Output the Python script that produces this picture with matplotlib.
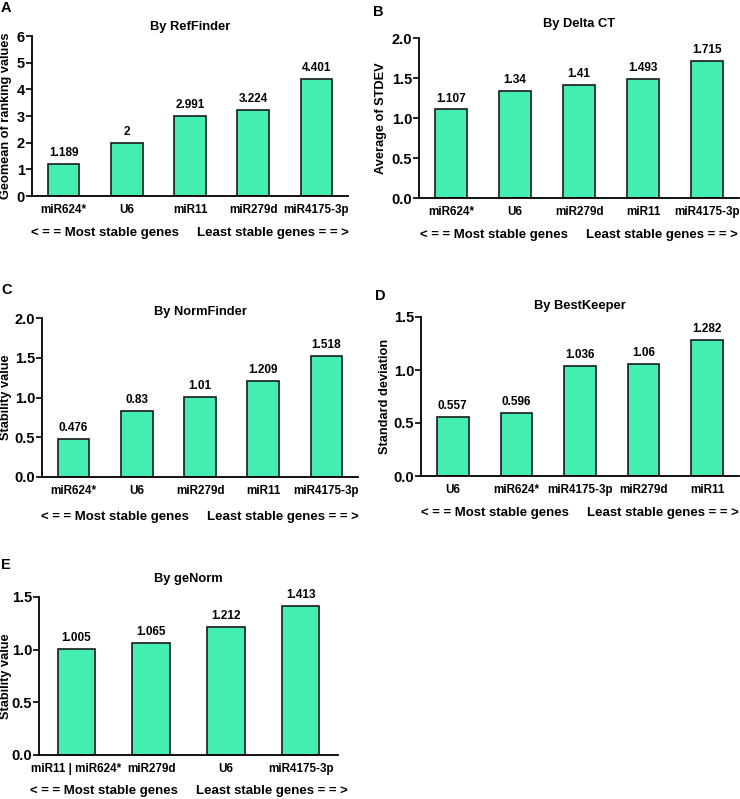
import matplotlib.pyplot as plt
import numpy as np

plt.rcParams['font.family'] = ['Liberation Sans', 'DejaVu Sans']
plt.rcParams['font.weight'] = 'bold'

# ===============================
# Dados
# ===============================
genes_a = ["miR624*", "U6", "miR11", "miR279d", "miR4175-3p"]
vals_a = [1.189, 2, 2.991, 3.224, 4.401]
labels_a = ["1.189", "2", "2.991", "3.224", "4.401"]

genes_b = ["miR624*", "U6", "miR279d", "miR11", "miR4175-3p"]
vals_b = [1.107, 1.34, 1.41, 1.493, 1.715]
labels_b = ["1.107", "1.34", "1.41", "1.493", "1.715"]

genes_c = ["miR624*", "U6", "miR279d", "miR11", "miR4175-3p"]
vals_c = [0.476, 0.83, 1.01, 1.209, 1.518]
labels_c = ["0.476", "0.83", "1.01", "1.209", "1.518"]

genes_d = ["U6", "miR624*", "miR4175-3p", "miR279d", "miR11"]
vals_d = [0.557, 0.596, 1.036, 1.06, 1.282]
labels_d = ["0.557", "0.596", "1.036", "1.06", "1.282"]

genes_e = ["miR11 | miR624*", "miR279d", "U6", "miR4175-3p"]
vals_e = [1.005, 1.065, 1.212, 1.413]
labels_e = ["1.005", "1.065", "1.212", "1.413"]

W, H = 740, 799
cor_barra = '#44EEB0'
rodape = "< = = Most stable genes     Least stable genes = = >"


def eixo(esq, dir, topo, base):
    # converte pixels para fracao da figura
    return fig.add_axes([esq / W, (H - base) / H, (dir - esq) / W, (base - topo) / H])


def painel(ax, genes, vals, rots, titulo, ylab, ymax, passo, fmt, letra, letra_xy, tpad, ylab_x, xpad):
    x = np.arange(len(genes))
    ax.bar(x, vals, width=0.5, color=cor_barra, edgecolor='#1a1a1a', linewidth=1.2)
    for xi, v, r in zip(x, vals, rots):
        ax.annotate(r, (xi, v), xytext=(0, 3.5), textcoords='offset points',
                    ha='center', va='bottom', fontsize=8.5, fontweight='bold')
    ax.set_xlim(-0.5, len(genes) - 0.5)
    ax.set_ylim(0, ymax)
    ticks = np.arange(0, ymax + passo / 2, passo)
    ax.set_yticks(ticks)
    ax.set_yticklabels([fmt.format(t) for t in ticks])
    ax.set_xticks(x)
    ax.set_xticklabels(genes)
    ax.tick_params(axis='x', length=0, pad=6, labelsize=8.4)
    ax.tick_params(axis='y', length=4, width=1.2, labelsize=10.5, pad=1)
    for s in ['top', 'right']:
        ax.spines[s].set_visible(False)
    for s in ['left', 'bottom']:
        ax.spines[s].set_linewidth(1.3)
    ax.set_title(titulo, fontsize=9.3, fontweight='bold', pad=tpad)
    ax.set_ylabel(ylab, fontsize=9.2, fontweight='bold')
    # posicao do rotulo y (borda direita do texto, em pixels)
    pos = ax.get_position()
    ax.yaxis.set_label_coords((ylab_x / W - pos.x0) / pos.width, 0.5)
    ax.set_xlabel(rodape, fontsize=9.5, fontweight='bold', labelpad=xpad)
    fig.text(letra_xy[0] / W, 1 - letra_xy[1] / H, letra, fontsize=10.5,
             fontweight='bold', ha='left', va='center')


fig = plt.figure(figsize=(7.4, 7.99), dpi=100)

ax_a = eixo(32, 348, 36, 196)
painel(ax_a, genes_a, vals_a, labels_a, "By RefFinder", "Geomean of ranking values",
       6, 1, "{:.0f}", "A", (1, 8), 4, 12, 8)

ax_b = eixo(419, 739, 38, 198)
painel(ax_b, genes_b, vals_b, labels_b, "By Delta CT", "Average of STDEV",
       2.0, 0.5, "{:.1f}", "B", (373, 12), 8, 387, 8)

ax_c = eixo(42, 358, 318, 477)
painel(ax_c, genes_c, vals_c, labels_c, "By NormFinder", "Stability value",
       2.0, 0.5, "{:.1f}", "C", (1, 290), 0, 12, 10)

ax_d = eixo(421, 739, 317, 476)
painel(ax_d, genes_d, vals_d, labels_d, "By BestKeeper", "Standard deviation",
       1.5, 0.5, "{:.1f}", "D", (375, 296), 6, 391, 8)

ax_e = eixo(39, 338, 597, 755)
painel(ax_e, genes_e, vals_e, labels_e, "By geNorm", "Stability value",
       1.5, 0.5, "{:.1f}", "E", (1, 565), 11, 12, 7)

plt.savefig("out.png", dpi=100)
plt.close()
